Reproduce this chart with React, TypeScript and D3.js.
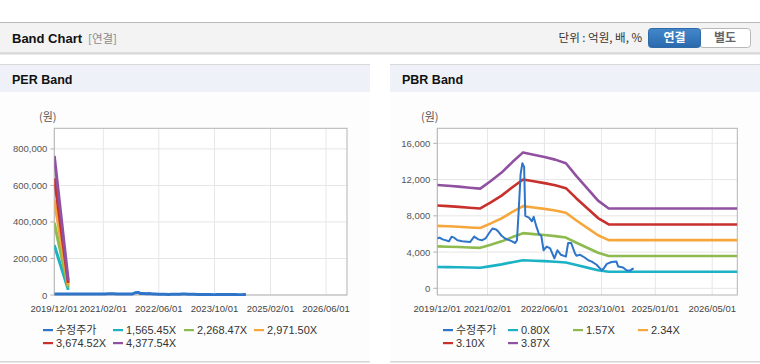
import React from "react";
import * as d3 from "d3";

// ---------- data ----------
const X_DOMAIN = ["2019/12/01", "2026/12/01"];
const PER_X_TICKS = ["2019/12/01", "2021/02/01", "2022/06/01", "2023/10/01", "2025/02/01", "2026/06/01"];
const PBR_X_TICKS = ["2019/12/01", "2021/02/01", "2022/06/01", "2023/10/01", "2025/01/01", "2026/05/01"];
const PER_Y_TICKS = [0, 200000, 400000, 600000, 800000];
const PBR_Y_TICKS = [0, 4000, 8000, 12000, 16000];

// 수정주가 (adjusted price)
const priceDates = [
  "2019/12/01", "2019/12/20", "2020/01/15", "2020/03/10", "2020/04/01", "2020/04/20", "2020/05/20",
  "2020/07/01", "2020/09/05", "2020/10/10", "2020/11/15", "2020/12/15", "2021/01/15", "2021/02/15",
  "2021/03/15", "2021/04/15", "2021/05/01", "2021/06/01", "2021/07/01", "2021/08/25", "2021/09/25",
  "2021/10/10", "2021/10/25", "2021/11/10", "2021/11/25", "2021/12/10", "2021/12/20", "2022/01/20",
  "2022/02/15", "2022/03/01", "2022/03/25", "2022/04/15", "2022/05/05", "2022/05/25", "2022/06/20",
  "2022/07/20", "2022/08/25", "2022/09/20", "2022/10/20", "2022/12/01", "2022/12/20", "2023/01/15",
  "2023/02/15", "2023/03/01", "2023/04/01", "2023/05/10", "2023/06/10", "2023/07/10", "2023/08/20",
  "2023/10/01", "2023/10/20", "2023/11/15", "2023/12/25", "2024/02/05", "2024/02/20", "2024/04/01",
  "2024/05/01", "2024/06/01", "2024/06/15", "2024/07/01",
];
const priceValues = [
  5500, 5600, 5400, 5200, 5700, 5600, 5300,
  5200, 5100, 5700, 5400, 5300, 5500, 6100,
  6600, 6500, 6300, 5800, 5500, 5200, 5000,
  5300, 8600, 12600, 13800, 13400, 8000, 7800,
  7400, 7900, 6800, 6000, 5800, 4200, 4600,
  4400, 3300, 4200, 3700, 3500, 5000, 5000,
  3900, 3600, 3700, 3400, 3100, 2950, 2600,
  2000, 2200, 2700, 2900, 2950, 2400, 2300,
  2000, 1950, 2100, 2200,
];

// PER band: EPS and multiples
const perMultiples = [1565.45, 2268.47, 2971.5, 3674.52, 4377.54];
const perLabels = ["1,565.45X", "2,268.47X", "2,971.50X", "3,674.52X", "4,377.54X"];
const epsDates = ["2019/12/01", "2020/04/01"];
const epsValues = [174, 18];

// PBR band: BPS and multiples
const pbrMultiples = [0.8, 1.57, 2.34, 3.1, 3.87];
const pbrLabels = ["0.80X", "1.57X", "2.34X", "3.10X", "3.87X"];
const bpsDates = [
  "2019/12/01", "2020/03/01", "2020/06/01", "2020/09/01", "2020/12/01", "2021/03/01", "2021/06/01",
  "2021/09/01", "2021/12/01", "2022/03/01", "2022/06/01", "2022/09/01", "2022/12/01", "2023/03/01",
  "2023/06/01", "2023/09/01", "2023/12/01", "2026/12/01",
];
const bpsValues = [
  2946, 2925, 2900, 2870, 2842, 3060, 3300,
  3600, 3876, 3810, 3745, 3670, 3566, 3200,
  2850, 2500, 2274, 2274,
];

const PRICE_LABEL = "수정주가";
const COLORS = ["#2e74c9", "#1cb2c6", "#8dbb4f", "#f5a73b", "#c8302b", "#9052a0"];

const KFONT = "'Noto Sans CJK KR', 'Noto Sans', sans-serif";
const NFONT = "'Liberation Sans', Arial, sans-serif";

const parse = d3.timeParse("%Y/%m/%d");

type PanelProps = {
  id: string;
  px0: number;
  px1: number;
  title: string;
  plot: { x0: number; x1: number; y0: number; y1: number };
  yDomain: [number, number];
  yTicks: number[];
  xTicks: string[];
  bandDates: string[];
  bandBase: number[];
  multiples: number[];
  labels: string[];
  legendText: number[];
  unitX: number;
  bandWidth: number;
  priceWidth: number;
};

function Panel(p: PanelProps) {
  const x = d3.scaleTime()
    .domain(X_DOMAIN.map((d) => parse(d) as Date))
    .range([p.plot.x0, p.plot.x1]);
  const y = d3.scaleLinear().domain(p.yDomain).range([p.plot.y1, p.plot.y0]);
  const fmt = d3.format(",");
  const line = d3.line<[Date, number]>()
    .x((d) => x(d[0]))
    .y((d) => y(d[1]));

  const bandLines = p.multiples.map((m) =>
    line(p.bandDates.map((d, i) => [parse(d) as Date, p.bandBase[i] * m]))
  );
  const priceLine = line(priceDates.map((d, i) => [parse(d) as Date, priceValues[i]]));

  const legendItems = [PRICE_LABEL, ...p.labels];
  const { x0, x1, y0, y1 } = p.plot;

  return (
    <g>
      <rect x={p.px0} y={64} width={p.px1 - p.px0} height={1} fill="#d9d9d9" />
      <rect x={p.px0} y={65} width={p.px1 - p.px0} height={27} fill="#eef2f8" />
      <text x={p.px0 + 12} y={84} fontFamily={NFONT} fontWeight="bold" fontSize={12.5} fill="#111">
        {p.title}
      </text>
      <rect x={p.px0} y={92} width={p.px1 - p.px0} height={269} fill="#fdfdfd" />
      <rect x={p.px0} y={361} width={p.px1 - p.px0} height={1.5} fill="#d6d6d6" />

      <defs>
        <clipPath id={p.id + "clip"}>
          <rect x={x0} y={y0} width={x1 - x0} height={y1 - y0 + 1} />
        </clipPath>
      </defs>
      <rect x={x0} y={y0} width={x1 - x0} height={y1 - y0} fill="#ffffff" />
      {p.xTicks.map((t) => (
        <line key={"gx" + t} x1={x(parse(t) as Date)} x2={x(parse(t) as Date)} y1={y0} y2={y1} stroke="#e6e6e6" />
      ))}
      {p.yTicks.map((t) => (
        <line key={"gy" + t} x1={x0} x2={x1} y1={y(t)} y2={y(t)} stroke="#e6e6e6" />
      ))}
      <rect x={x0} y={y0} width={x1 - x0} height={y1 - y0} fill="none" stroke="#b3b3b3" strokeWidth={1} />
      {p.yTicks.map((t) => (
        <g key={"yt" + t}>
          <line x1={x0 - 4} x2={x0} y1={y(t)} y2={y(t)} stroke="#b3b3b3" />
          <text x={x0 - 7} y={y(t) + 3.5} textAnchor="end" fontFamily={NFONT} fontSize={9.5} fill="#555">
            {fmt(t)}
          </text>
        </g>
      ))}
      {p.xTicks.map((t) => (
        <text key={"xt" + t} x={x(parse(t) as Date)} y={312} textAnchor="middle" fontFamily={NFONT} fontSize={9.5} fill="#444">
          {t}
        </text>
      ))}
      <text x={p.unitX} y={121} fontFamily={KFONT} fontSize={11} fill="#555">(원)</text>

      <g clipPath={`url(#${p.id}clip)`}>
        {bandLines.map((d, i) => (
          <path key={"b" + i} d={d || ""} fill="none" stroke={COLORS[i + 1]} strokeWidth={p.bandWidth} strokeLinejoin="round" />
        ))}
        <path d={priceLine || ""} fill="none" stroke={COLORS[0]} strokeWidth={p.priceWidth} strokeLinejoin="round" />
      </g>

      {legendItems.map((lab, i) => {
        const row = i < 4 ? 0 : 1;
        const col = i % 4;
        const tx = p.legendText[col];
        const ly = row === 0 ? 330 : 343;
        return (
          <g key={"lg" + i}>
            <rect x={tx - 13} y={ly - 1} width={10} height={2.2} fill={COLORS[i]} />
            <text x={tx} y={ly + 4} fontFamily={i === 0 ? KFONT : NFONT} fontSize={11} fill="#333">
              {lab}
            </text>
          </g>
        );
      })}
    </g>
  );
}

export default function App() {
  return (
    <svg
      width={760}
      height={364}
      style={{ position: "absolute", left: 0, top: 0, background: "#ffffff" }}
    >
      <defs>
        <linearGradient id="btnBlue" x1="0" y1="0" x2="0" y2="1">
          <stop offset="0" stopColor="#4388cb" />
          <stop offset="1" stopColor="#2a68ad" />
        </linearGradient>
        <linearGradient id="shadow" x1="0" y1="0" x2="0" y2="1">
          <stop offset="0" stopColor="#c4c4c4" />
          <stop offset="1" stopColor="#ffffff" />
        </linearGradient>
      </defs>
      <rect x={0} y={22} width={760} height={1.2} fill="#b9b9b9" />
      <rect x={0} y={23} width={760} height={29.5} fill="#f3f3f3" />
      <rect x={0} y={52.5} width={760} height={3} fill="url(#shadow)" />
      <text x={12} y={43} fontFamily={NFONT} fontWeight="bold" fontSize={13} fill="#111">Band Chart</text>
      <text x={88} y={43} fontFamily={KFONT} fontSize={11.5} fill="#8a8a8a">[연결]</text>
      <text x={642} y={42} textAnchor="end" fontFamily={KFONT} fontSize={11.5} fill="#333">단위 : 억원, 배, %</text>
      <rect x={700} y={28.5} width={50.5} height={19} rx={3} fill="#ffffff" stroke="#b8b8b8" />
      <rect x={648.5} y={28.5} width={52} height={19} rx={3} fill="url(#btnBlue)" stroke="#2f6aa8" />
      <text x={674.5} y={42} textAnchor="middle" fontFamily={KFONT} fontWeight="bold" fontSize={12} fill="#ffffff">연결</text>
      <text x={725} y={42} textAnchor="middle" fontFamily={KFONT} fontWeight="bold" fontSize={12} fill="#666">별도</text>

      <Panel
        id="per"
        px0={0}
        px1={370}
        title="PER Band"
        plot={{ x0: 54.3, x1: 347, y0: 128.3, y1: 295 }}
        yDomain={[0, 913000]}
        yTicks={PER_Y_TICKS}
        xTicks={PER_X_TICKS}
        bandDates={epsDates}
        bandBase={epsValues}
        multiples={perMultiples}
        labels={perLabels}
        legendText={[56, 126, 197, 267]}
        unitX={39}
        bandWidth={3}
        priceWidth={3}
      />
      <Panel
        id="pbr"
        px0={390}
        px1={760}
        title="PBR Band"
        plot={{ x0: 437.3, x1: 737.3, y0: 128.3, y1: 295 }}
        yDomain={[-740, 17660]}
        yTicks={PBR_Y_TICKS}
        xTicks={PBR_X_TICKS}
        bandDates={bpsDates}
        bandBase={bpsValues}
        multiples={pbrMultiples}
        labels={pbrLabels}
        legendText={[456, 521, 586, 651]}
        unitX={421}
        bandWidth={2.6}
        priceWidth={2}
      />
    </svg>
  );
}
